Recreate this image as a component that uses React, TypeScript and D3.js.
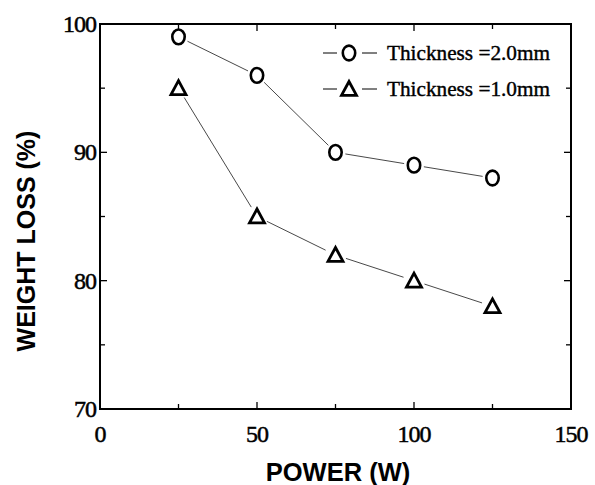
import React from 'react'
import * as d3 from 'd3'

// values
const power = [25, 50, 75, 100, 125]
const thick20 = [99, 96, 90, 89, 88]
const thick10 = [95, 85, 82, 80, 78]
const seriesNames = ['Thickness =2.0mm', 'Thickness =1.0mm']
const xMajor = [0, 50, 100, 150]
const xMinor = [25, 75, 125]
const yMajor = [70, 80, 90, 100]
const yMinor = [75, 85, 95]

const W = 595
const H = 485
const margin = { left: 100, right: 24, top: 24, bottom: 76 }

const serif = '"Liberation Serif", "Times New Roman", serif'
const sans = '"Liberation Sans", Arial, sans-serif'

function Circle({ x, y }: { x: number; y: number }) {
  return <ellipse cx={x} cy={y} rx={6.2} ry={7.4} fill="none" stroke="#000" strokeWidth={2.6} />
}

function Triangle({ x, y }: { x: number; y: number }) {
  const s = 7.5
  const d = `M${x},${y - s}L${x + s},${y + s * 0.85}L${x - s},${y + s * 0.85}Z`
  return <path d={d} fill="none" stroke="#000" strokeWidth={2.8} strokeLinejoin="miter" />
}

// segments between markers, shortened so they do not touch the symbols
function gappedSegments(pts: [number, number][], gap: number) {
  const segs: string[] = []
  for (let i = 0; i < pts.length - 1; i++) {
    const [x1, y1] = pts[i]
    const [x2, y2] = pts[i + 1]
    const len = Math.hypot(x2 - x1, y2 - y1)
    const ux = (x2 - x1) / len
    const uy = (y2 - y1) / len
    segs.push(`M${x1 + ux * gap},${y1 + uy * gap}L${x2 - ux * gap},${y2 - uy * gap}`)
  }
  return segs.join('')
}

export default function App() {
  const x = d3.scaleLinear().domain([0, 150]).range([margin.left, W - margin.right])
  const y = d3.scaleLinear().domain([70, 100]).range([H - margin.bottom, margin.top])
  const [x0, x1] = x.range()
  const [y0, y1] = y.range()

  const pts20 = power.map((p, i) => [x(p), y(thick20[i])] as [number, number])
  const pts10 = power.map((p, i) => [x(p), y(thick10[i])] as [number, number])

  const legendY = [53, 89]
  return (
    <svg width={W} height={H} style={{ position: 'absolute', left: 0, top: 0, background: '#fff' }}>
      {/* ticks, inward on all four sides */}
      <g stroke="#000" strokeWidth={1.3}>
        {xMajor.map(t => (
          <g key={'xM' + t}>
            <line x1={x(t)} x2={x(t)} y1={y0} y2={y0 - 7} />
            <line x1={x(t)} x2={x(t)} y1={y1} y2={y1 + 7} />
          </g>
        ))}
        {xMinor.map(t => (
          <g key={'xm' + t}>
            <line x1={x(t)} x2={x(t)} y1={y0} y2={y0 - 5} />
            <line x1={x(t)} x2={x(t)} y1={y1} y2={y1 + 5} />
          </g>
        ))}
        {yMajor.map(t => (
          <g key={'yM' + t}>
            <line x1={x0} x2={x0 + 7} y1={y(t)} y2={y(t)} />
            <line x1={x1} x2={x1 - 7} y1={y(t)} y2={y(t)} />
          </g>
        ))}
        {yMinor.map(t => (
          <g key={'ym' + t}>
            <line x1={x0} x2={x0 + 5} y1={y(t)} y2={y(t)} />
            <line x1={x1} x2={x1 - 5} y1={y(t)} y2={y(t)} />
          </g>
        ))}
      </g>
      <rect x={x0} y={y1} width={x1 - x0} height={y0 - y1} fill="none" stroke="#000" strokeWidth={2} />

      {/* tick labels */}
      <g fontFamily={serif} fontSize={24} fill="#000" stroke="#000" strokeWidth={0.5} letterSpacing={-1}>
        {xMajor.map(t => (
          <text key={'xl' + t} x={x(t)} y={y0 + 33} textAnchor="middle">{t}</text>
        ))}
        {yMajor.map(t => (
          <text key={'yl' + t} x={x0 - 4} y={y(t) + 8} textAnchor="end">{t}</text>
        ))}
      </g>

      {/* axis titles */}
      <text x={338} y={481} textAnchor="middle" fontFamily={sans} fontWeight="bold" fontSize={25.5}>POWER (W)</text>
      <text transform="translate(35,241) rotate(-90)" textAnchor="middle" fontFamily={sans} fontWeight="bold" fontSize={25}>WEIGHT LOSS (%)</text>

      {/* series */}
      <path d={gappedSegments(pts20, 10)} fill="none" stroke="#333" strokeWidth={0.9} />
      <path d={gappedSegments(pts10, 11)} fill="none" stroke="#333" strokeWidth={0.9} />
      {pts20.map(([px, py], i) => <Circle key={'c' + i} x={px} y={py} />)}
      {pts10.map(([px, py], i) => <Triangle key={'t' + i} x={px} y={py} />)}

      {/* legend */}
      {seriesNames.map((name, i) => (
        <g key={name}>
          <line x1={323} x2={337} y1={legendY[i]} y2={legendY[i]} stroke="#000" strokeWidth={1} />
          <line x1={362} x2={377} y1={legendY[i]} y2={legendY[i]} stroke="#000" strokeWidth={1} />
          {i === 0 ? <Circle x={349} y={legendY[i]} /> : <Triangle x={349} y={legendY[i]} />}
          <text x={387} y={legendY[i] + 7} fontFamily={serif} fontSize={21} stroke="#000" strokeWidth={0.4}
            textLength={163} lengthAdjust="spacingAndGlyphs">{name}</text>
        </g>
      ))}
    </svg>
  )
}
